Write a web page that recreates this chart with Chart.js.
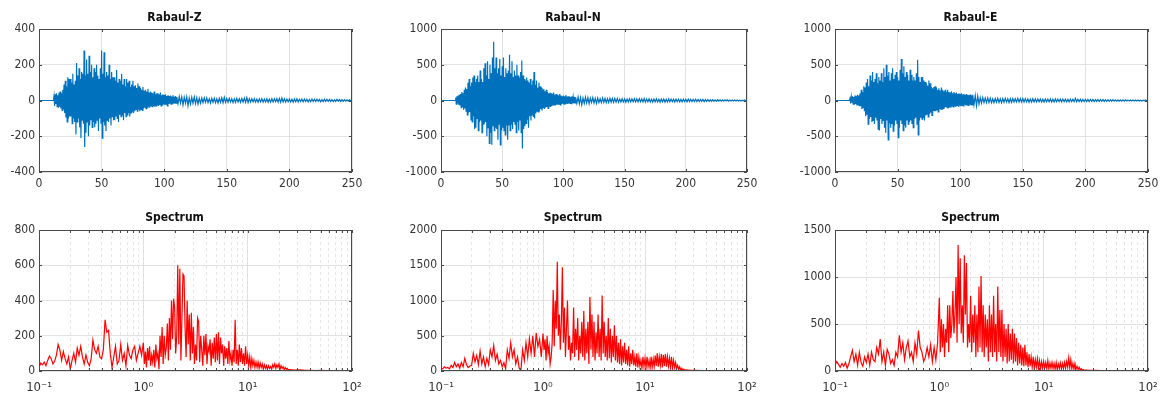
<!DOCTYPE html>
<html>
<head>
<meta charset="utf-8">
<script src="https://cdn.jsdelivr.net/npm/chart.js@4.4.1/dist/chart.umd.min.js"></script>
<style>
  body { margin: 0; background: #fff; }
  #wrap { position: relative; width: 1160px; height: 397px; overflow: hidden; }
  #wrap canvas { position: absolute; }
</style>
</head>
<body>
<div id="wrap"></div>
<script>
// ---- data ----
const titles = ['Rabaul-Z', 'Rabaul-N', 'Rabaul-E', 'Spectrum', 'Spectrum', 'Spectrum'];
const timeTicks = [0, 50, 100, 150, 200, 250];
const logTicks = [0.1, 0.2, 0.3, 0.4, 0.5, 0.6, 0.7, 0.8, 0.9,
                  1, 2, 3, 4, 5, 6, 7, 8, 9,
                  10, 20, 30, 40, 50, 60, 70, 80, 90, 100];
const decadeLabels = { 0.1: '10⁻¹', 1: '10⁰', 10: '10¹', 100: '10²' };

// sample clock: t=0, then 10..110 s every 0.5 s, then 111..250 s every 1 s
const times = [0];
for (let i = 0; i <= 200; i++) times.push(10 + i * 0.5);
for (let s = 111; s <= 250; s++) times.push(s);

// frequency grid: 60/decade below 1 Hz, 100/decade 1..25 Hz, 20/decade above
const freqs = [];
for (let k = 0; k < 60; k++) freqs.push(0.1 * Math.pow(10, k / 60));
for (let k = 0; k < 140; k++) freqs.push(Math.pow(10, k / 100));
for (let k = 0; k <= 12; k++) freqs.push(Math.pow(10, 1.4 + k / 20));

const rabaulZ = [0,
  0,0,0,0,25,-30,35,-20,40,-35,
  30,-40,45,-35,50,-45,40,-55,60,-50,
  90,-70,110,-95,80,-120,130,-100,120,-90,
  120,-90,100,-130,150,-100,90,-120,110,-190,
  210,-120,140,-100,180,-150,120,-210,160,-110,
  150,-130,280,-260,140,-180,230,-120,150,-200,
  250,-140,160,-110,200,-150,130,-120,180,-150,
  160,-130,200,-110,140,-170,120,-100,180,-130,
  280,-210,150,-120,270,-140,130,-170,160,-110,
  140,-120,200,-100,120,-140,160,-90,130,-110,
  130,-110,110,-90,170,-100,100,-120,120,-80,
  110,-90,150,-80,90,-110,120,-70,80,-90,
  120,-80,100,-70,110,-90,75,-70,90,-60,
  110,-70,80,-60,85,-50,70,-60,95,-50,
  80,-60,70,-50,60,-55,75,-45,55,-40,
  60,-45,50,-40,65,-35,45,-40,50,-30,
  45,-35,40,-30,50,-35,35,-30,40,-25,
  40,-30,35,-25,45,-30,30,-25,35,-20,
  30,-25,35,-20,25,-30,30,-20,25,-18,
  28,-20,22,-18,30,-15,20,-18,25,-15,
  20,
  -18,22,-15,20,-25,18,-15,20,-30,15,
  -20,18,-15,20,-18,15,-20,12,-15,14,
  -12,15,-10,14,-12,10,-14,12,-10,12,
  -12,10,-14,12,-10,15,-12,18,-10,12,
  -10,12,-8,10,-12,9,-10,12,-8,10,
  -10,12,-9,14,-10,16,-12,10,-9,10,
  -8,10,-9,8,-10,9,-8,10,-9,8,
  -8,9,-10,8,-9,10,-8,9,-7,10,
  -9,12,-10,14,-8,10,-9,8,-7,8,
  -8,7,-9,8,-7,9,-8,7,-6,8,
  -7,8,-6,7,-8,6,-7,8,-6,7,
  -6,7,-5,6,-7,5,-6,7,-5,6,
  -5,6,-5,5,-6,4,-5,6,-4,5,
  -5,4,-4,5,-4,3,-4,5,-3,4];

const rabaulN = [0,
  0,0,0,0,40,-50,60,-40,70,-60,
  80,-70,90,-100,120,-90,100,-130,150,-110,
  180,-150,160,-200,250,-170,300,-160,200,-280,
  250,-300,320,-220,350,-400,260,-380,300,-250,
  350,-420,260,-300,420,-280,300,-450,260,-330,
  450,-320,520,-300,350,-500,550,-380,300,-600,
  500,-450,380,-620,600,-350,820,-420,450,-380,
  600,-400,380,-550,450,-330,580,-620,350,-420,
  480,-380,600,-420,330,-480,450,-350,380,-550,
  420,-350,640,-420,380,-330,550,-400,330,-300,
  420,-330,350,-450,500,-300,350,-420,320,-280,
  400,-450,560,-670,350,-400,300,-360,280,-320,
  320,-260,280,-380,250,-220,300,-280,220,-200,
  280,-230,400,-250,220,-180,280,-150,180,-160,
  250,-150,200,-120,180,-140,150,-100,160,-120,
  130,-100,150,-90,120,-110,100,-80,110,-90,
  100,-80,90,-70,110,-60,80,-70,90,-60,
  80,-60,70,-50,90,-60,70,-50,60,-45,
  70,-50,60,-45,75,-40,55,-50,60,-40,
  55,-40,50,-45,60,-35,45,-40,50,-35,
  45,
  -40,50,-45,40,-60,35,-40,45,-35,40,
  -45,35,-30,40,-35,30,-40,35,-30,25,
  -30,35,-25,30,-30,25,-28,30,-25,28,
  -25,30,-22,28,-25,20,-22,25,-20,22,
  -25,20,-22,25,-20,22,-18,25,-20,22,
  -20,25,-18,22,-20,28,-22,20,-18,22,
  -20,18,-22,20,-18,22,-20,18,-22,20,
  -18,20,-22,18,-20,22,-18,20,-16,18,
  -20,18,-16,20,-18,16,-20,18,-15,16,
  -18,20,-16,18,-15,16,-14,18,-15,14,
  -16,14,-12,15,-14,12,-13,14,-12,10,
  -10,12,-10,9,-11,10,-9,8,-10,9,
  -8,9,-7,8,-8,7,-8,6,-7,8,
  -6,7,-6,5,-6,5,-5,6,-5,4];

const rabaulE = [0,
  0,0,0,0,30,-40,50,-30,60,-50,
  50,-60,70,-50,60,-70,80,-60,70,-80,
  100,-80,150,-120,120,-100,200,-150,180,-220,
  250,-200,300,-330,200,-260,350,-230,280,-300,
  400,-280,260,-330,300,-240,380,-280,240,-400,
  330,-420,280,-260,380,-330,260,-280,450,-380,
  330,-450,500,-280,350,-550,400,-320,280,-380,
  380,-330,450,-430,300,-350,360,-280,400,-330,
  330,-520,280,-380,430,-280,580,-330,380,-420,
  480,-350,330,-380,400,-280,360,-330,280,-300,
  430,-280,360,-330,280,-380,330,-260,280,-240,
  380,-330,570,-480,330,-280,260,-240,330,-260,
  330,-240,280,-280,260,-210,240,-190,210,-230,
  280,-190,240,-170,190,-210,170,-140,190,-150,
  200,-150,180,-130,150,-160,170,-120,140,-130,
  180,-120,150,-110,130,-100,150,-90,120,-100,
  150,-100,120,-90,110,-100,130,-80,100,-90,
  120,-80,100,-90,110,-70,90,-80,100,-70,
  90,-80,100,-70,85,-75,90,-60,80,-70,
  90,-60,80,-70,75,-60,85,-65,70,-60,
  80,
  -60,70,-75,60,-50,40,-35,40,-30,35,
  -30,35,-28,32,-30,25,-30,28,-25,30,
  -28,25,-30,28,-25,30,-22,25,-28,25,
  -25,28,-22,25,-20,30,-22,25,-20,28,
  -22,25,-20,22,-25,20,-22,25,-20,22,
  -20,22,-18,20,-22,18,-20,22,-18,20,
  -18,20,-22,18,-20,22,-18,20,-16,18,
  -18,20,-16,18,-20,16,-18,20,-16,18,
  -16,30,-18,16,-15,18,-16,15,-14,16,
  -15,16,-14,15,-13,16,-14,12,-13,14,
  -12,13,-11,12,-13,11,-12,10,-11,12,
  -10,11,-10,9,-11,10,-9,10,-8,9,
  -8,9,-7,8,-8,7,-8,6,-7,8,
  -6,7,-6,5,-6,5,-5,6,-5,4];

const spectrumZ = [
  20,45,35,50,30,60, 85,70,40,55,90,150, 120,60,110,70,40,80,
  10,60,100,50,130,90, 140,80,40,90,50,30, 70,175,120,100,140,80,
  70,120,290,220,230,100, 20,80,140,40,60,150, 60,100,30,145,90,70,
  120,140,60,100,140,90,
  160,40,110,20,130,60,140,30,90,50,
  120,20,150,70,100,10,200,80,250,40,
  200,90,130,270,60,300,120,400,180,410,
  360,100,200,600,150,580,60,300,550,540,
  250,80,400,150,320,60,330,100,250,40,
  150,60,300,280,50,200,120,30,200,90,
  210,40,140,110,180,30,160,70,190,50,
  210,60,220,40,190,100,150,30,140,70,
  130,40,170,60,100,30,120,50,290,40,
  120,30,150,50,130,40,100,30,140,40,
  90,30,80,20,70,30,60,20,50,20,
  50,15,45,20,40,10,35,15,30,10,
  30,15,25,10,35,20,40,15,35,20,
  40,10,30,15,25,8,20,10,15,5,
  8,5,6,3,4,2,3,2,2,1,2,1,1];

const spectrumN = [
  40,30,60,40,50,30, 80,50,120,60,100,40, 120,60,180,90,50,70,
  80,250,130,220,90,280, 100,200,60,180,90,300, 200,360,150,240,100,150,
  60,120,30,300,180,400, 200,300,100,200,40,10, 300,150,400,200,460,250,
  500,200,540,350,450,200,
  530,300,450,150,500,250,350,100,200,400,
  1150,350,1000,600,1550,500,800,300,700,1470,
  400,900,200,600,1000,300,500,150,400,250,
  900,200,600,300,750,150,500,250,700,200,
  850,150,600,250,700,100,1050,300,800,200,
  700,150,550,250,800,200,600,150,1070,250,
  700,200,500,150,750,180,600,120,500,200,
  650,150,500,120,400,100,450,80,350,120,
  400,100,300,80,350,60,250,100,300,80,
  200,60,250,50,200,70,150,40,200,60,
  180,50,200,60,150,40,200,50,170,60,
  220,70,250,60,200,80,240,50,230,70,
  240,60,200,70,180,50,200,40,150,50,
  120,30,80,20,60,15,40,10,25,8,
  15,10,8,6,5,4,3,3,2,2,1,1,1];

const spectrumE = [
  60,100,70,40,80,50, 90,30,80,150,220,100, 180,60,200,90,50,150,
  90,180,60,200,120,100, 250,180,340,100,200,60, 230,180,80,120,60,200,
  150,380,200,300,120,250, 320,150,200,100,300,180, 430,250,200,100,150,250,
  150,280,100,250,120,300,
  780,200,550,250,500,150,450,300,700,200,
  700,350,500,850,400,600,1000,300,1340,500,
  1200,400,700,300,1230,600,1150,250,500,300,
  800,200,600,300,700,150,600,200,900,250,
  1010,200,700,150,600,250,550,100,700,200,
  600,150,800,200,500,100,900,200,650,150,
  650,100,500,150,450,80,500,100,400,120,
  450,80,400,100,350,60,300,80,280,60,
  250,50,280,60,200,40,180,50,150,40,
  150,30,120,40,130,30,110,25,100,30,
  100,30,90,25,110,20,85,30,90,25,
  80,20,90,15,75,25,85,20,80,25,
  90,30,100,40,140,30,120,25,80,20,
  80,20,50,15,40,10,25,8,15,5,
  10,8,6,5,4,3,3,2,2,1,1,1,1];

// ---- layout of the six axes boxes (page pixels) ----
const cols = [[39, 352], [441, 747], [835, 1148]];
const rows = [[29, 172, 15], [230, 371, 14]];   // top, bottom, title centre offset in canvas
const Y_W = 42, TOP_H = 26, X_H = 26, RIGHT_PAD = 26;

Chart.defaults.font.family = "'DejaVu Sans Condensed', 'Liberation Sans Narrow', 'DejaVu Sans', sans-serif";
Chart.defaults.font.size = 12;
Chart.defaults.color = '#333';

const isDecade = v => decadeLabels[v] !== undefined;

// box around the plot area plus inward tick marks
const framePlugin = {
    id: 'frame',
    afterDatasetsDraw(chart) {
        const { ctx, chartArea: a, scales } = chart;
        ctx.save();
        ctx.strokeStyle = '#4a4a4a';
        ctx.lineWidth = 1;
        ctx.beginPath();
        scales.x.ticks.forEach(t => {
            const px = Math.round(scales.x.getPixelForValue(t.value)) + 0.5;
            ctx.moveTo(px, a.bottom); ctx.lineTo(px, a.bottom - 3);
            ctx.moveTo(px, a.top); ctx.lineTo(px, a.top + 3);
        });
        scales.y.ticks.forEach(t => {
            const py = Math.round(scales.y.getPixelForValue(t.value)) + 0.5;
            ctx.moveTo(a.left, py); ctx.lineTo(a.left + 3, py);
            ctx.moveTo(a.right, py); ctx.lineTo(a.right - 3, py);
        });
        ctx.stroke();
        ctx.strokeRect(a.left + 0.5, a.top + 0.5, a.width - 1, a.height - 1);
        ctx.restore();
    }
};

function makeChart(col, row, title, xs, ys, color, lineW, xScale, yMin, yMax, yStep) {
    const [L, R] = cols[col];
    const [T, B, titleMid] = rows[row];
    const w = R - L + Y_W + RIGHT_PAD, h = B - T + TOP_H + X_H;
    const cv = document.createElement('canvas');
    cv.width = w; cv.height = h;
    cv.style.left = (L - Y_W) + 'px';
    cv.style.top = (T - TOP_H) + 'px';
    cv.style.width = w + 'px';
    cv.style.height = h + 'px';
    document.getElementById('wrap').appendChild(cv);

    const titleSize = 12;
    const padTop = titleMid - titleSize * 0.6;
    const padBottom = TOP_H - padTop - titleSize * 1.2;

    return new Chart(cv.getContext('2d'), {
        type: 'line',
        data: {
            datasets: [{
                data: xs.map((x, i) => ({ x: x, y: ys[i] })),
                borderColor: color,
                borderWidth: lineW,
                pointRadius: 0,
                tension: 0,
                fill: false
            }]
        },
        options: {
            responsive: false,
            devicePixelRatio: 1,
            animation: false,
            events: [],
            parsing: false,
            layout: { padding: { top: 0, left: 0, bottom: 0, right: RIGHT_PAD } },
            plugins: {
                legend: { display: false },
                tooltip: { enabled: false },
                title: {
                    display: true,
                    text: title,
                    color: '#111',
                    font: { size: titleSize, weight: 'bold' },
                    padding: { top: padTop, bottom: padBottom }
                }
            },
            scales: {
                x: Object.assign({ afterFit: s => { s.height = X_H; } }, xScale),
                y: {
                    type: 'linear',
                    min: yMin, max: yMax,
                    afterFit: s => { s.width = Y_W; },
                    afterBuildTicks: s => {
                        const t = [];
                        for (let v = yMin; v <= yMax; v += yStep) t.push({ value: v });
                        s.ticks = t;
                    },
                    grid: { color: '#e2e2e2', drawTicks: false },
                    border: { display: false },
                    ticks: { padding: 4, color: '#333', callback: v => String(v) }
                }
            }
        },
        plugins: [framePlugin]
    });
}

const timeAxis = {
    type: 'linear', min: 0, max: 250,
    afterBuildTicks: s => { s.ticks = timeTicks.map(v => ({ value: v })); },
    grid: { color: '#e2e2e2', drawTicks: false },
    border: { display: false },
    ticks: { padding: 5, color: '#333', maxRotation: 0, autoSkip: false, callback: v => String(v) }
};

const freqAxis = {
    type: 'logarithmic', min: 0.1, max: 100,
    afterBuildTicks: s => { s.ticks = logTicks.map(v => ({ value: v, major: isDecade(v) })); },
    grid: {
        drawTicks: false,
        color: ctx => (ctx.tick && isDecade(ctx.tick.value)) ? '#e0e0e0' : '#e6e6e6'
    },
    border: {
        display: false,
        dash: ctx => (ctx.tick && !isDecade(ctx.tick.value)) ? [3, 3] : []
    },
    ticks: {
        padding: 9, color: '#333', maxRotation: 0, autoSkip: false,
        font: { size: 13 },
        callback: v => decadeLabels[v] || ''
    }
};

const blue = '#0072BD', red = '#FF0000';

makeChart(0, 0, titles[0], times, rabaulZ, blue, 1.2, timeAxis, -400, 400, 200);
makeChart(1, 0, titles[1], times, rabaulN, blue, 1.2, timeAxis, -1000, 1000, 500);
makeChart(2, 0, titles[2], times, rabaulE, blue, 1.2, timeAxis, -1000, 1000, 500);
makeChart(0, 1, titles[3], freqs, spectrumZ, red, 1.2, freqAxis, 0, 800, 200);
makeChart(1, 1, titles[4], freqs, spectrumN, red, 1.2, freqAxis, 0, 2000, 500);
makeChart(2, 1, titles[5], freqs, spectrumE, red, 1.2, freqAxis, 0, 1500, 500);
</script>
</body>
</html>
